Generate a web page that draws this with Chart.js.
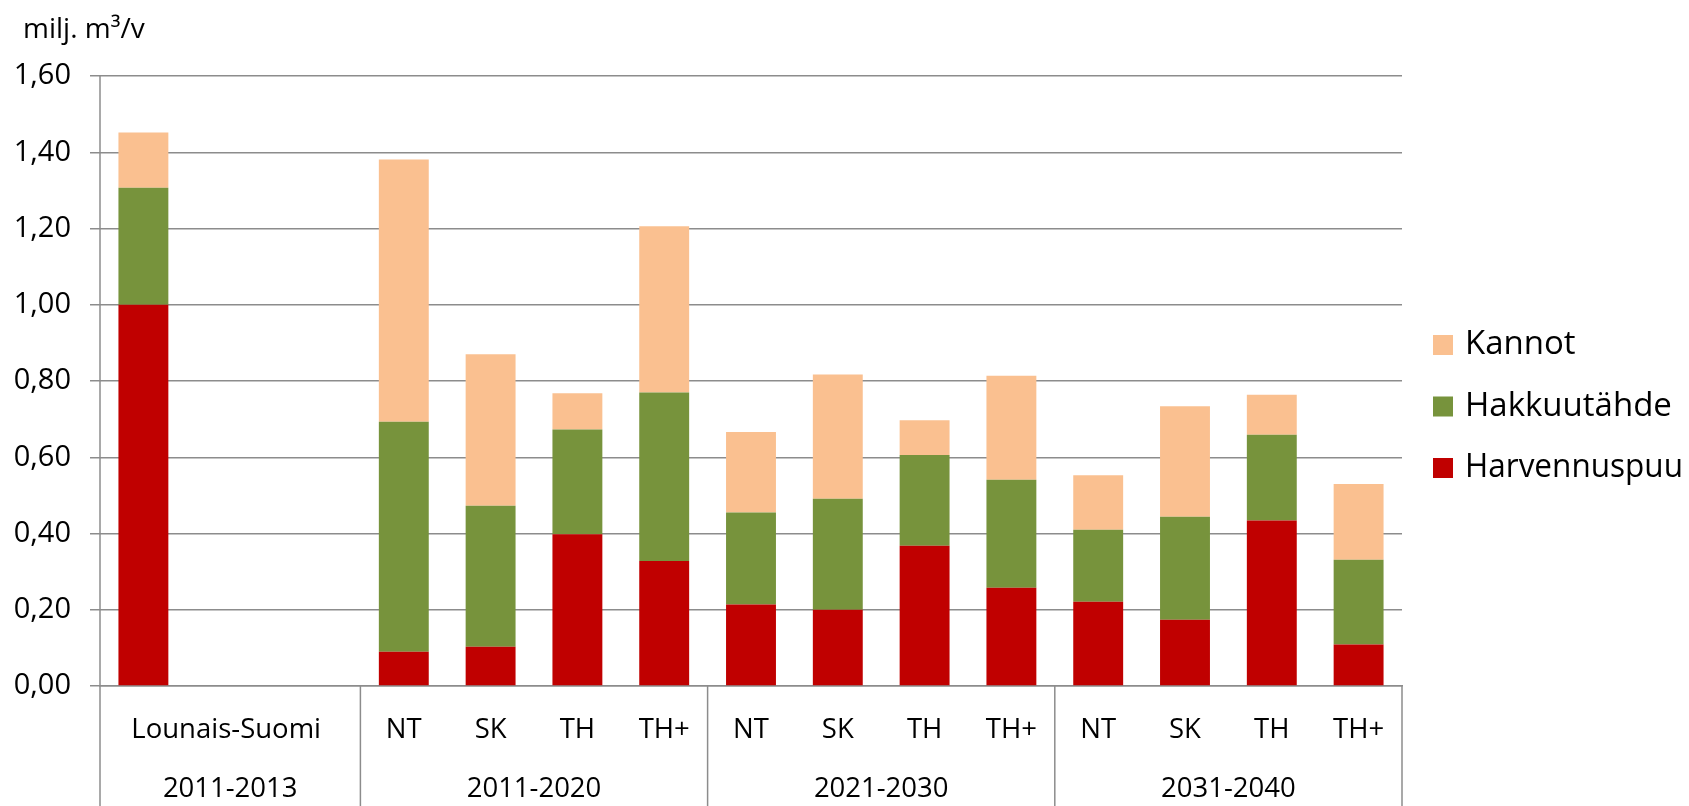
<!DOCTYPE html>
<html>
<head>
<meta charset="utf-8">
<script src="https://cdn.jsdelivr.net/npm/chart.js@4"></script>
<style>
  html, body { margin: 0; padding: 0; background: #fff; }
  #wrap { width: 1689px; height: 806px; position: relative; }
</style>
</head>
<body>
<div id="wrap"><canvas id="chart"></canvas></div>
<script>
// categories (sub labels) and their period groups
const categories = ['Lounais-Suomi', '', '', 'NT', 'SK', 'TH', 'TH+', 'NT', 'SK', 'TH', 'TH+', 'NT', 'SK', 'TH', 'TH+'];
const groupLabels = ['2011-2013', '2011-2020', '2021-2030', '2031-2040'];
const groupSizes = [3, 4, 4, 4];

// series values, milj. m3/v
const harvennuspuu = [1.00, null, null, 0.090, 0.103, 0.398, 0.328, 0.214, 0.200, 0.368, 0.258, 0.221, 0.174, 0.434, 0.109];
const hakkuutahde  = [0.307, null, null, 0.603, 0.370, 0.275, 0.442, 0.241, 0.291, 0.238, 0.283, 0.189, 0.270, 0.225, 0.222];
const kannot       = [0.145, null, null, 0.688, 0.397, 0.095, 0.436, 0.211, 0.326, 0.091, 0.273, 0.143, 0.290, 0.105, 0.199];

const yTicks = [0, 0.2, 0.4, 0.6, 0.8, 1.0, 1.2, 1.4, 1.6];

const FONT = "'Open Sans', 'Noto Sans', sans-serif";
const GRID = '#8c8c8c';

// axis labels in two levels, separators, unit title and legend
const extrasPlugin = {
    id: 'extras',
    afterDraw(chart) {
        const ctx = chart.ctx;
        const x = chart.scales.x;
        const area = chart.chartArea;
        const bottom = chart.height;
        const slot = x.getPixelForValue(1) - x.getPixelForValue(0);

        ctx.save();
        ctx.strokeStyle = GRID;
        ctx.lineWidth = 1.5;

        // y axis line continues down through the label area
        ctx.beginPath();
        ctx.moveTo(area.left, area.top);
        ctx.lineTo(area.left, bottom);
        ctx.stroke();

        ctx.fillStyle = '#000';
        ctx.textAlign = 'center';
        ctx.textBaseline = 'middle';

        let start = 0;
        groupSizes.forEach((size, g) => {
            let end = start + size - 1;
            let left = x.getPixelForValue(start) - slot / 2;
            let right = x.getPixelForValue(end) + slot / 2;

            ctx.beginPath();
            ctx.moveTo(right, area.bottom);
            ctx.lineTo(right, bottom);
            ctx.stroke();

            let subs = categories.slice(start, end + 1);
            let filled = subs.filter(s => s !== '');
            ctx.font = '27.5px ' + FONT;
            if (filled.length === 1) {
                ctx.fillText(filled[0], (left + right) / 2 - 4, 730);
            } else {
                subs.forEach((s, i) => {
                    ctx.fillText(s, x.getPixelForValue(start + i), 730);
                });
            }
            ctx.fillText(groupLabels[g], (left + right) / 2, 789);
            start = end + 1;
        });

        // unit title
        ctx.textAlign = 'left';
        ctx.textBaseline = 'alphabetic';
        ctx.font = '28px ' + FONT;
        ctx.fillText('milj. m\u00b3/v', 23, 38);

        // legend, top item is the top of the stack
        let items = chart.data.datasets.slice().reverse();
        ctx.font = '33px ' + FONT;
        ctx.textBaseline = 'middle';
        items.forEach((ds, i) => {
            let cy = 345 + i * 61.5;
            ctx.fillStyle = ds.backgroundColor;
            ctx.fillRect(1433, cy - 10, 20, 20);
            ctx.fillStyle = '#000';
            ctx.fillText(ds.label, 1465, cy, 218);
        });
        ctx.restore();
    }
};

const ctx = document.getElementById('chart').getContext('2d');
new Chart(ctx, {
    type: 'bar',
    data: {
        labels: categories,
        datasets: [
            { label: 'Harvennuspuu', data: harvennuspuu, backgroundColor: '#C00000' },
            { label: 'Hakkuutähde', data: hakkuutahde, backgroundColor: '#77933C' },
            { label: 'Kannot', data: kannot, backgroundColor: '#FAC090' }
        ]
    },
    options: {
        responsive: true,
        maintainAspectRatio: false,
        animation: false,
        layout: {
            padding: { top: 76, right: 287, bottom: 0, left: 0 }
        },
        datasets: {
            bar: { categoryPercentage: 1, barPercentage: 0.575, borderWidth: 0 }
        },
        scales: {
            x: {
                stacked: true,
                grid: { display: false },
                border: { display: true, color: GRID, width: 1.5 },
                ticks: { display: false },
                afterFit: scale => { scale.height = 120; }
            },
            y: {
                stacked: true,
                min: 0,
                max: 1.6,
                afterBuildTicks: scale => { scale.ticks = yTicks.map(v => ({ value: v })); },
                grid: { color: GRID, lineWidth: 1.5, tickLength: 10 },
                border: { display: false },
                ticks: {
                    padding: 19,
                    color: '#000',
                    font: { family: FONT, size: 29 },
                    callback: v => v.toFixed(2).replace('.', ',')
                },
                afterFit: scale => { scale.width = 100; }
            }
        },
        plugins: {
            legend: { display: false },
            tooltip: { enabled: false }
        }
    },
    plugins: [extrasPlugin]
});
</script>
</body>
</html>
